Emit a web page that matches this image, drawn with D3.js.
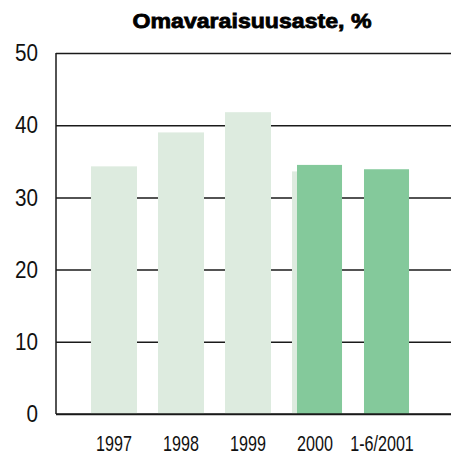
<!DOCTYPE html>
<html>
<head>
<meta charset="utf-8">
<script src="https://cdn.jsdelivr.net/npm/d3@7"></script>
<style>
  body { margin: 0; background: #fff; }
</style>
</head>
<body>
<div id="chart"></div>
<script>
// categories and values
const categories = ['1997', '1998', '1999', '2000', '1-6/2001'];
const oldValues = [34.3, 39.0, 41.8, 33.6];      // light bars (1997-2000)
const newCats = ['2000', '1-6/2001'];
const newValues = [34.5, 33.9];                 // dark bars
const yTicks = [0, 10, 20, 30, 40, 50];

const width = 451;
const height = 457;
const margin = { top: 53, right: 0, bottom: 43, left: 56 };
const labelFont = '"Liberation Sans", Arial, sans-serif';

const svg = d3.select('#chart')
    .append('svg')
    .attr('width', width)
    .attr('height', height);

const x = d3.scaleBand()
    .domain(categories)
    .range([margin.left, 440])
    .paddingInner(0.313)
    .paddingOuter(0.522);

const y = d3.scaleLinear()
    .domain([0, 50])
    .range([height - margin.bottom, margin.top]);

// gridlines first, bars go over them
const grid = svg.append('g')
    .attr('transform', `translate(${margin.left}, 0)`)
    .call(d3.axisLeft(y).tickValues(yTicks).tickFormat('').tickSize(-(width - margin.left)));
grid.select('.domain').remove();
grid.selectAll('line').attr('stroke', '#1a1a1a').attr('stroke-width', 1.5);

// old series
svg.append('g')
    .selectAll('rect')
    .data(oldValues)
    .join('rect')
    .attr('x', (d, i) => x(categories[i]))
    .attr('y', (d) => y(d))
    .attr('width', x.bandwidth())
    .attr('height', (d) => y(0) - y(d))
    .attr('fill', '#ddebdf');

// new series, shifted a bit right
const shift = 5;
svg.append('g')
    .selectAll('rect')
    .data(newValues)
    .join('rect')
    .attr('x', (d, i) => x(newCats[i]) + shift)
    .attr('y', (d) => y(d))
    .attr('width', x.bandwidth() - 1)
    .attr('height', (d) => y(0) - y(d))
    .attr('fill', '#84c99b');

// axis lines
svg.append('line')
    .attr('x1', margin.left).attr('x2', margin.left)
    .attr('y1', y(50)).attr('y2', y(0))
    .attr('stroke', '#1a1a1a').attr('stroke-width', 1.5);
svg.append('line')
    .attr('x1', margin.left).attr('x2', width)
    .attr('y1', y(0)).attr('y2', y(0))
    .attr('stroke', '#1a1a1a').attr('stroke-width', 1.5);

// squeeze text to look like a condensed face
function condense(sel, factor) {
    sel.each(function () {
        const w = this.getComputedTextLength();
        d3.select(this)
            .attr('textLength', w * factor)
            .attr('lengthAdjust', 'spacingAndGlyphs');
    });
}

// y labels
const yAxis = svg.append('g')
    .attr('transform', `translate(${margin.left}, 0)`)
    .call(d3.axisLeft(y).tickValues(yTicks).tickSize(0).tickPadding(18));
yAxis.select('.domain').remove();
yAxis.selectAll('text')
    .style('font-family', labelFont)
    .style('font-size', '24px')
    .attr('fill', '#111')
    .call(condense, 0.86);

// x labels
const xAxis = svg.append('g')
    .attr('transform', `translate(0, ${y(0)})`)
    .call(d3.axisBottom(x).tickSize(0));
xAxis.select('.domain').remove();
xAxis.selectAll('text')
    .attr('y', 37)
    .attr('dy', 0)
    .style('font-family', labelFont)
    .style('font-size', '21.5px')
    .attr('fill', '#111')
    .call(condense, 0.75);

// title
svg.append('text')
    .attr('x', 252)
    .attr('y', 28)
    .attr('text-anchor', 'middle')
    .attr('textLength', 239)
    .attr('lengthAdjust', 'spacingAndGlyphs')
    .style('font-family', labelFont)
    .style('font-weight', 'bold')
    .style('font-size', '21px')
    .attr('stroke', '#000')
    .attr('stroke-width', 0.8)
    .text('Omavaraisuusaste, %');
</script>
</body>
</html>
